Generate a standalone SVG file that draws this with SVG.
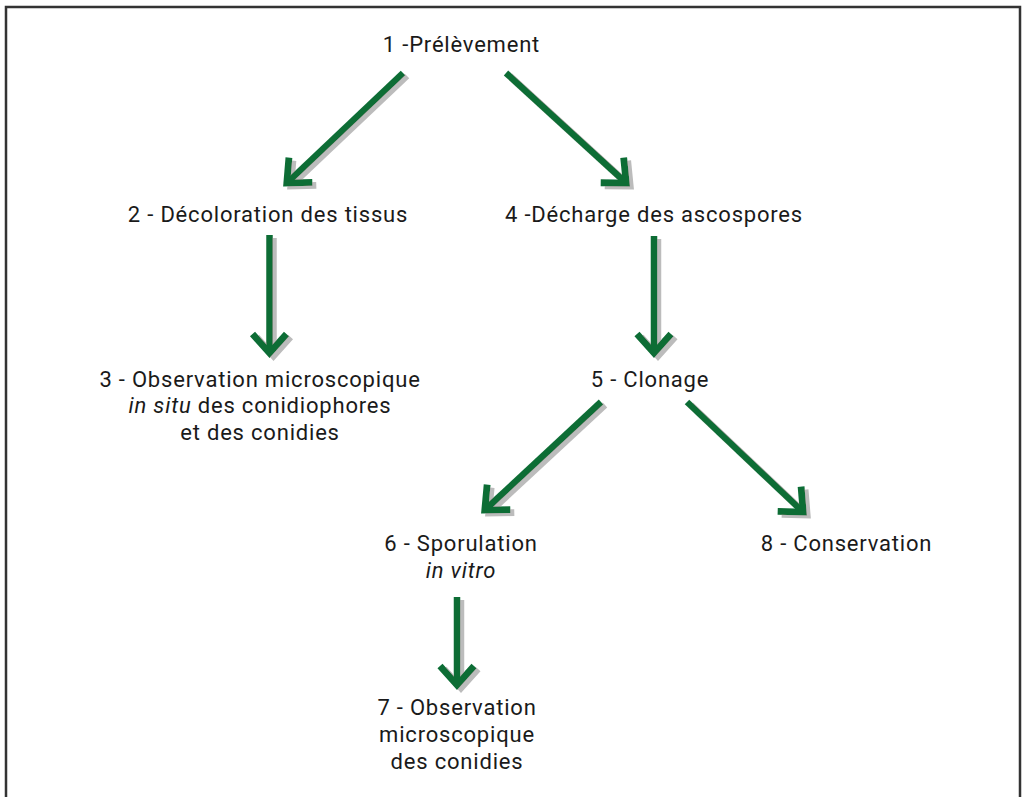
<svg xmlns="http://www.w3.org/2000/svg" width="1023" height="797" viewBox="0 0 1023 797">
<style>
.t{font-family:Roboto,"Liberation Sans",sans-serif;font-size:22px;letter-spacing:0.8px;fill:#1a1a1a;text-anchor:middle}
.i{font-style:italic}
.c{fill:none;stroke:#0b6d36;stroke-width:6.5;stroke-linecap:butt}
</style>
<defs>
<marker id="ah" markerUnits="userSpaceOnUse" orient="auto" markerWidth="40" markerHeight="40" viewBox="-25 -20 40 40" refX="-3" refY="0" overflow="visible">
<path d="M-19,-17 L0,0 L-19,17" fill="none" stroke="#0b6d36" stroke-width="6.8" stroke-linejoin="miter" stroke-miterlimit="10"/>
</marker>
<filter id="sh" x="-20%" y="-20%" width="140%" height="140%">
<feDropShadow dx="4" dy="3" stdDeviation="0.7" flood-color="#bcbcbc" flood-opacity="1"/>
</filter>
</defs>
<rect width="1023" height="797" fill="#fff"/>
<path d="M6,797 V7 H1020 V797" fill="none" stroke="#333" stroke-width="2.5"/>
<g id="connectors" filter="url(#sh)">
<line class="c" x1="403" y1="73" x2="289" y2="181" marker-end="url(#ah)"/>
<line class="c" x1="506" y1="73" x2="624" y2="181" marker-end="url(#ah)"/>
<line class="c" x1="269.5" y1="235" x2="269.5" y2="350" marker-end="url(#ah)"/>
<line class="c" x1="654" y1="236" x2="654" y2="350" marker-end="url(#ah)"/>
<line class="c" x1="601" y1="402" x2="487" y2="508" marker-end="url(#ah)"/>
<line class="c" x1="687" y1="402" x2="801" y2="510" marker-end="url(#ah)"/>
<line class="c" x1="457" y1="597" x2="457" y2="682" marker-end="url(#ah)"/>
</g>
<g id="n1"><text class="t" x="461.5" y="52">1 -Prélèvement</text></g>
<g id="n2"><text class="t" x="268" y="222">2 - Décoloration des tissus</text></g>
<g id="n3"><text class="t" x="260" y="387">3 - Observation microscopique</text><text class="t" x="260" y="413"><tspan class="i">in situ</tspan> des conidiophores</text><text class="t" x="260" y="440">et des conidies</text></g>
<g id="n4"><text class="t" x="654" y="222">4 -Décharge des ascospores</text></g>
<g id="n5"><text class="t" x="650" y="387">5 - Clonage</text></g>
<g id="n6"><text class="t" x="461" y="551">6 - Sporulation</text><text class="t i" x="461" y="578">in vitro</text></g>
<g id="n7"><text class="t" x="457" y="715">7 - Observation</text><text class="t" x="457" y="742">microscopique</text><text class="t" x="457" y="769">des conidies</text></g>
<g id="n8"><text class="t" x="846.5" y="551">8 - Conservation</text></g>
</svg>
